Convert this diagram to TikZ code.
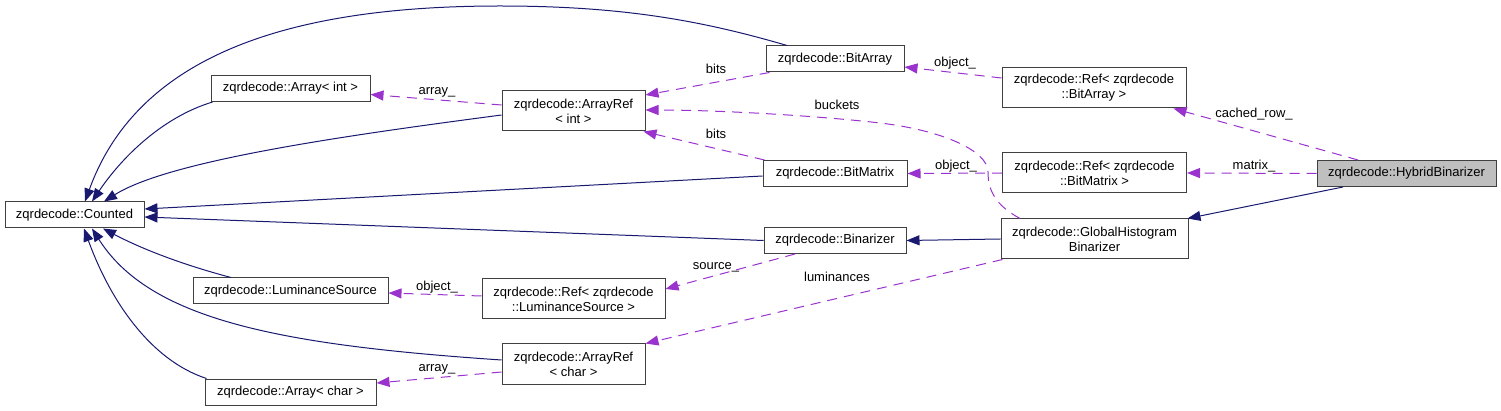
\documentclass[tikz,border=0pt]{standalone}
\usepackage{fontspec}
\setmainfont{Liberation Sans}
\usetikzlibrary{arrows.meta,calc}
\definecolor{inhc}{HTML}{191970}
\definecolor{usec}{HTML}{9A32CD}
\definecolor{boxc}{HTML}{404040}
\definecolor{hfill}{HTML}{BFBFBF}
\begin{document}
\begin{tikzpicture}[x=1pt,y=-1pt,
  cls/.style={draw=boxc, line width=1pt, fill=white, inner sep=0pt, align=center,
    font=\fontsize{13}{15}\selectfont},
  one/.style={minimum height=26pt},
  two/.style={minimum height=40pt},
  lbl/.style={inner sep=0pt, anchor=base, font=\fontsize{13}{15}\selectfont},
  inh/.style={draw=inhc, line width=1pt, -{Triangle[length=13pt,width=10pt]}},
  use/.style={draw=usec, line width=1pt, dash pattern=on 10pt off 7pt,
    -{Triangle[length=13pt,width=10pt]}}]
\useasboundingbox (0,0) rectangle (1501,411);
% nodes
\node[cls,one,minimum width=139pt] (counted) at (74.5,215) {zqrdecode::Counted};
\node[cls,one,minimum width=159pt] (arrint) at (290.5,88.5) {zqrdecode::Array< int >};
\node[cls,one,minimum width=195pt] (lumsrc) at (290.5,291) {zqrdecode::LuminanceSource};
\node[cls,one,minimum width=171pt] (arrchar) at (290.5,392) {zqrdecode::Array< char >};
\node[cls,two,minimum width=143pt] (arefint) at (573.5,111) {zqrdecode::ArrayRef\\< int >};
\node[cls,two,minimum width=143pt] (arefchar) at (573.5,364) {zqrdecode::ArrayRef\\< char >};
\node[cls,two,minimum width=183pt] (reflum) at (573.5,299) {zqrdecode::Ref< zqrdecode\\::LuminanceSource >};
\node[cls,one,minimum width=138pt] (bitarray) at (835,59) {zqrdecode::BitArray};
\node[cls,one,minimum width=144pt] (bitmatrix) at (835,173.5) {zqrdecode::BitMatrix};
\node[cls,one,minimum width=142pt] (binarizer) at (835,240.5) {zqrdecode::Binarizer};
\node[cls,two,minimum width=184pt] (refba) at (1094,88) {zqrdecode::Ref< zqrdecode\\::BitArray >};
\node[cls,two,minimum width=184pt] (refbm) at (1094.5,173) {zqrdecode::Ref< zqrdecode\\::BitMatrix >};
\node[cls,two,minimum width=187pt] (gh) at (1094.5,239) {zqrdecode::GlobalHistogram\\Binarizer};
\node[cls,one,minimum width=179pt,fill=hfill] (hybrid) at (1406.5,173.5) {zqrdecode::HybridBinarizer};
% inheritance
\draw[inh] ($(bitarray.north)+(-48,0)$) .. controls (700,20) and (620,6) .. (500,6)
  .. controls (300,6) and (140,50) .. ($(counted.north)+(10.5,0)$);
\draw[inh] ($(arrint.south west)+(2,0)$) .. controls (160,118) and (120,160) .. ($(counted.north)+(17.5,0)$);
\draw[inh] ($(arefint.west)+(0,4)$) .. controls (350,135) and (170,160) .. ($(counted.north)+(29.5,0)$);
\draw[inh] ($(bitmatrix.west)+(0,2.5)$) -- ($(counted.east)+(0,-6)$);
\draw[inh] (binarizer.west) -- ($(counted.east)+(0,2)$);
\draw[inh] ($(lumsrc.north)+(-59.5,0)$) .. controls (180,264) and (140,248) .. ($(counted.south)+(28.5,0)$);
\draw[inh] ($(arefchar.west)+(0,-4)$) .. controls (280,345) and (150,320) .. ($(counted.south)+(17.5,0)$);
\draw[inh] ($(arrchar.north west)+(2,0)$) .. controls (150,360) and (110,300) .. ($(counted.south)+(9.5,0)$);
\draw[inh] ($(hybrid.south)+(-63.5,0)$) -- ($(gh.north east)+(-1,0)$);
\draw[inh] (gh.west) -- (binarizer.east);
% usage
\draw[use] ($(arefint.west)+(0,-6)$) -- ($(arrint.east)+(0,6)$);
\draw[use] ($(bitarray.south west)+(4,0)$) -- ($(arefint.east)+(0,-16)$);
\draw[use] ($(bitmatrix.north west)+(2,0)$) -- ($(arefint.south east)+(-2,0)$);
\draw[use] ($(gh.north)+(-74.5,0)$) .. controls (995,205) and (988,190) .. (988,172)
  .. controls (988,150) and (940,130) .. (880,123)
  .. controls (820,116) and (720,110) .. ($(arefint.east)+(0,-1)$);
\draw[use] ($(refba.west)+(0,-10)$) -- ($(bitarray.east)+(0,8)$);
\draw[use] (refbm.west) -- (bitmatrix.east);
\draw[use] ($(hybrid.north)+(-48.5,0)$) -- ($(refba.south east)+(-13,0)$);
\draw[use] (hybrid.west) -- (refbm.east);
\draw[use] ($(binarizer.south)+(-40,0)$) -- ($(reflum.east)+(0,-10)$);
\draw[use] ($(reflum.west)+(0,-3)$) -- ($(lumsrc.east)+(0,2)$);
\draw[use] ($(gh.south west)+(2,0)$) -- (arefchar.north east);
\draw[use] ($(arefchar.west)+(0,8)$) -- ($(arrchar.east)+(0,-9)$);
% labels
\node[lbl] (l1) at (437,95) {array\_};
\node[lbl] (l2) at (716,74) {bits};
\node[lbl] (l3) at (716,139) {bits};
\node[lbl] (l4) at (837,110) {buckets};
\node[lbl] (l5) at (955,67) {object\_};
\node[lbl] (l6) at (956,170) {object\_};
\node[lbl] (l7) at (1254,118) {cached\_row\_};
\node[lbl] (l8) at (1254,170) {matrix\_};
\node[lbl] (l9) at (716,270) {source\_};
\node[lbl] (l10) at (437,291) {object\_};
\node[lbl] (l11) at (837,282) {luminances};
\node[lbl] (l12) at (437,371) {array\_};
\end{tikzpicture}
\end{document}
